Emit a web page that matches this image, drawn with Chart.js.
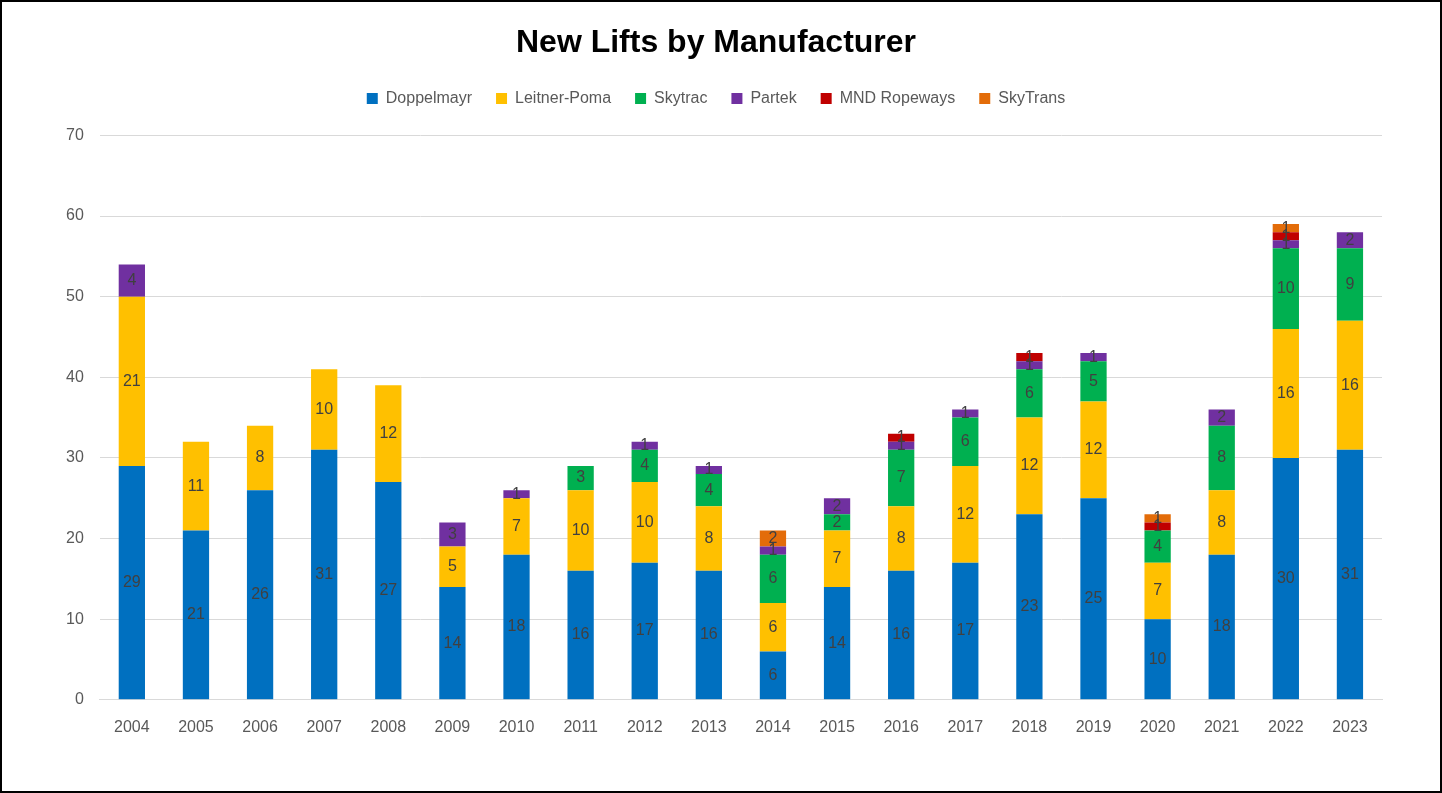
<!DOCTYPE html>
<html>
<head>
<meta charset="utf-8">
<script src="https://cdn.jsdelivr.net/npm/chart.js@4"></script>
<style>
  body { margin: 0; background: #fff; }
  #wrap { width: 1442px; height: 793px; box-sizing: border-box; border: 2px solid #000; background: #fff; }
</style>
</head>
<body>
<div id="wrap"><canvas id="liftsChart"></canvas></div>
<script>
const years = ["2004", "2005", "2006", "2007", "2008", "2009", "2010", "2011", "2012", "2013",
  "2014", "2015", "2016", "2017", "2018", "2019", "2020", "2021", "2022", "2023"];
const doppelmayr = [29, 21, 26, 31, 27, 14, 18, 16, 17, 16, 6, 14, 16, 17, 23, 25, 10, 18, 30, 31];
const leitnerPoma = [21, 11, 8, 10, 12, 5, 7, 10, 10, 8, 6, 7, 8, 12, 12, 12, 7, 8, 16, 16];
const skytrac = [0, 0, 0, 0, 0, 0, 0, 3, 4, 4, 6, 2, 7, 6, 6, 5, 4, 8, 10, 9];
const partek = [4, 0, 0, 0, 0, 3, 1, 0, 1, 1, 1, 2, 1, 1, 1, 1, 0, 2, 1, 2];
const mndRopeways = [0, 0, 0, 0, 0, 0, 0, 0, 0, 0, 0, 0, 1, 0, 1, 0, 1, 0, 1, 0];
const skyTrans = [0, 0, 0, 0, 0, 0, 0, 0, 0, 0, 2, 0, 0, 0, 0, 0, 1, 0, 1, 0];
const yTicks = [0, 10, 20, 30, 40, 50, 60, 70];

const FONT = "'Liberation Sans', Arial, sans-serif";

// draws the value in the middle of each segment (no datalabels plugin available offline)
const barLabels = {
  id: "barLabels",
  afterDatasetsDraw(chart) {
    const ctx = chart.ctx;
    ctx.save();
    ctx.font = "16px " + FONT;
    ctx.fillStyle = "#404040";
    ctx.textAlign = "center";
    ctx.textBaseline = "middle";
    chart.data.datasets.forEach((ds, i) => {
      const meta = chart.getDatasetMeta(i);
      meta.data.forEach((bar, j) => {
        const v = ds.data[j];
        if (!v) return;
        const p = bar.getProps(["x", "y", "base"], true);
        ctx.fillText(String(v), p.x, (p.y + p.base) / 2);
      });
    });
    ctx.restore();
  },
};

// extra room under the legend
const legendGap = {
  id: "legendGap",
  beforeInit(chart) {
    const fit = chart.legend.fit;
    chart.legend.fit = function () {
      fit.bind(chart.legend)();
      this.height += 19;
    };
  },
};

function series(label, data, color) {
  return {
    label: label,
    data: data,
    backgroundColor: color,
    barPercentage: 0.41,
    categoryPercentage: 1,
  };
}

const ctx = document.getElementById("liftsChart").getContext("2d");
new Chart(ctx, {
  type: "bar",
  data: {
    labels: years,
    datasets: [
      series("Doppelmayr", doppelmayr, "#0070c0"),
      series("Leitner-Poma", leitnerPoma, "#ffc000"),
      series("Skytrac", skytrac, "#00b050"),
      series("Partek", partek, "#7030a0"),
      series("MND Ropeways", mndRopeways, "#c00000"),
      series("SkyTrans", skyTrans, "#e36c09"),
    ],
  },
  plugins: [barLabels, legendGap],
  options: {
    responsive: true,
    maintainAspectRatio: false,
    animation: false,
    layout: { padding: { left: 48, right: 58, top: 16, bottom: 44 } },
    plugins: {
      title: {
        display: true,
        text: "New Lifts by Manufacturer",
        color: "#000",
        font: { family: FONT, size: 32, weight: "bold" },
        padding: { top: 6, bottom: 4 },
      },
      legend: {
        position: "top",
        labels: {
          color: "#595959",
          font: { family: FONT, size: 16 },
          boxWidth: 11,
          boxHeight: 11,
          padding: 24,
        },
      },
      tooltip: { enabled: false },
    },
    scales: {
      x: {
        stacked: true,
        grid: { display: false },
        border: { color: "#d9d9d9" },
        ticks: { color: "#595959", font: { family: FONT, size: 16 }, padding: 10 },
      },
      y: {
        stacked: true,
        min: 0,
        max: 70,
        afterBuildTicks: (axis) => { axis.ticks = yTicks.map((v) => ({ value: v })); },
        grid: { color: "#d9d9d9", drawTicks: false },
        border: { display: false },
        ticks: { color: "#595959", font: { family: FONT, size: 16 }, padding: 16 },
      },
    },
  },
});
</script>
</body>
</html>
